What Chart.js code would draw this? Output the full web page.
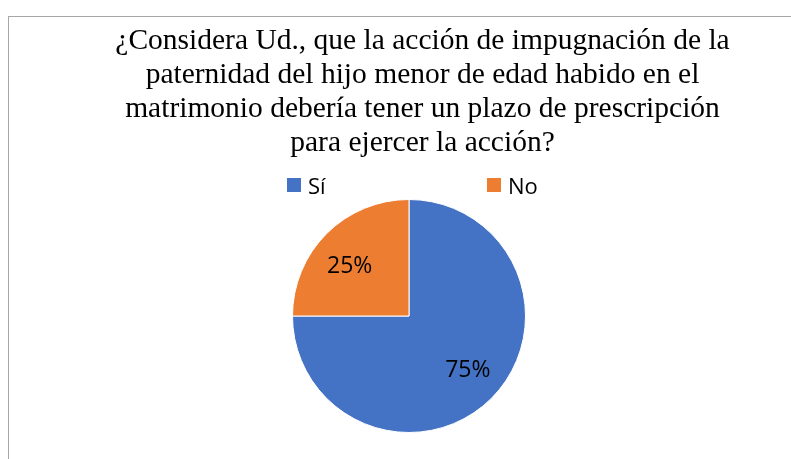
<!DOCTYPE html>
<html>
<head>
<meta charset="utf-8">
<script src="https://cdn.jsdelivr.net/npm/chart.js@4/dist/chart.umd.min.js"></script>
<style>
  body { margin: 0; background: #fff; }
  #wrap { position: relative; width: 791px; height: 459px; overflow: hidden; }
  #frame { position: absolute; left: 8px; top: 16px; width: 900px; height: 600px; border: 1px solid #a6a6a6; }
  #myChart { position: absolute; left: 0; top: 0; }
  .leg { position: absolute; top: 173px; padding-left: 21px; font: 22px "Open Sans"; line-height: 24px; color: #000; white-space: nowrap; }
  .leg i { position: absolute; left: 0; top: 5px; width: 14px; height: 14px; }
</style>
</head>
<body>
<div id="wrap">
  <div id="frame"></div>
  <canvas id="myChart" width="791" height="459"></canvas>
  <div id="legend"></div>
</div>
<script>
var titulo = [
    '¿Considera Ud., que la acción de impugnación de la',
    'paternidad del hijo menor de edad habido en el',
    'matrimonio debería tener un plazo de prescripción',
    'para ejercer la acción?'
];
var etiquetas = ['Sí', 'No'];
var valores = [75, 25];
var colores = ['#4472C4', '#ED7D31'];

window.addEventListener('load', function(){

    // leyenda en html, para poder separar los dos items como en excel
    var legendX = [287, 487];
    var legend = document.getElementById('legend');
    etiquetas.forEach(function(et, i){
        var d = document.createElement('div');
        d.className = 'leg';
        d.style.left = legendX[i] + 'px';
        d.innerHTML = '<i style="background:' + colores[i] + '"></i>' + et;
        legend.appendChild(d);
    });

    // porcentajes dentro de cada porcion
    var radioEtiqueta = [0.69, 0.665];
    var giroEtiqueta = [-2, -5]; // grados
    var etiquetasPie = {
        id: 'etiquetasPie',
        afterDatasetsDraw(chart){
            var ctx = chart.ctx;
            var meta = chart.getDatasetMeta(0);
            ctx.save();
            ctx.font = '23px "Open Sans"';
            ctx.fillStyle = '#000';
            ctx.textAlign = 'center';
            ctx.textBaseline = 'middle';
            meta.data.forEach((arc, i) => {
                var p = arc.getProps(['x', 'y', 'startAngle', 'endAngle', 'outerRadius'], true);
                var mid = (p.startAngle + p.endAngle) / 2 + giroEtiqueta[i] * Math.PI / 180;
                var r = p.outerRadius * radioEtiqueta[i];
                ctx.fillText(valores[i] + '%', p.x + Math.cos(mid) * r, p.y + Math.sin(mid) * r);
            });
            ctx.restore();
        }
    };

    var ctx = document.getElementById('myChart').getContext('2d');
    var chart = new Chart(ctx, {
        type: 'pie',
        data: {
            labels: etiquetas,
            datasets: [{
                data: valores,
                backgroundColor: colores,
                borderColor: '#ffffff',
                borderWidth: 1
            }]
        },
        options: {
            responsive: false,
            animation: false,
            layout: { padding: { left: 54, right: 0, top: 0, bottom: 26 } },
            plugins: {
                legend: { display: false },
                tooltip: { enabled: false },
                title: {
                    display: true,
                    text: titulo,
                    color: '#000',
                    font: { family: '"Liberation Serif", serif', size: 29.5, weight: 'normal', lineHeight: 34 / 29.5 },
                    padding: { top: 24, bottom: 39 }
                },
                // espacio vacio a la derecha: corre el pie a la izquierda del titulo
                subtitle: {
                    display: true,
                    position: 'right',
                    text: '',
                    font: { size: 1, lineHeight: 1 },
                    padding: { top: 13, bottom: 13 }
                }
            }
        },
        plugins: [etiquetasPie]
    });
});
</script>
</body>
</html>
